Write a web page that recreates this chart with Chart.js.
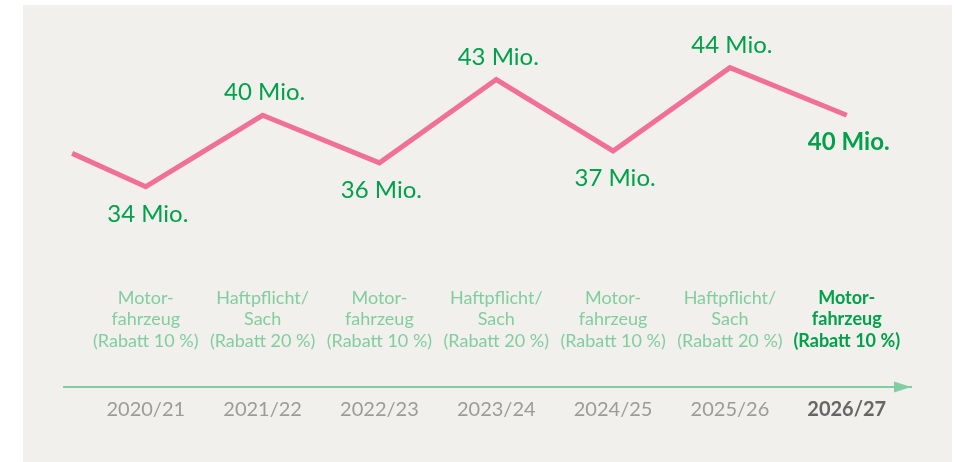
<!DOCTYPE html>
<html lang="de">
<head>
<meta charset="utf-8">
<script src="https://cdn.jsdelivr.net/npm/chart.js@4/dist/chart.umd.min.js"></script>
<style>
  html, body { margin: 0; padding: 0; background: #ffffff; }
  #panel {
    position: absolute;
    left: 23px; top: 5px;
    width: 929px; height: 457px;
    background: #f2f0ec;
  }
</style>
</head>
<body>
<div id="panel"><canvas id="myChart"></canvas></div>
<script>
'use strict';

// Daten
const seasons = ['2020/21', '2021/22', '2022/23', '2023/24', '2024/25', '2025/26', '2026/27'];
const products = [
  ['Motor-', 'fahrzeug', '(Rabatt 10 %)'],
  ['Haftpflicht/', 'Sach', '(Rabatt 20 %)'],
  ['Motor-', 'fahrzeug', '(Rabatt 10 %)'],
  ['Haftpflicht/', 'Sach', '(Rabatt 20 %)'],
  ['Motor-', 'fahrzeug', '(Rabatt 10 %)'],
  ['Haftpflicht/', 'Sach', '(Rabatt 20 %)'],
  ['Motor-', 'fahrzeug', '(Rabatt 10 %)']
];
const millions = [34, 40, 36, 43, 37, 44, 40];
// Linie kommt von links aus dem Vorjahr herein
const leadIn = { x: -0.63, y: 36.8 };

const highlight = seasons.length - 1;
const FONT = 'Lato';
const GREEN = '#00a14b';
const LIGHT_GREEN = '#82cda0';
const PINK = '#f07098';

const points = [leadIn].concat(millions.map((v, i) => ({ x: i, y: v })));

const setTicks = scale => {
  scale.ticks = seasons.map((_, i) => ({ value: i }));
};

// Werte-Beschriftung (x Mio.)
const valueLabels = {
  id: 'valueLabels',
  afterDatasetsDraw(chart) {
    const ctx = chart.ctx;
    const meta = chart.getDatasetMeta(0);
    ctx.save();
    ctx.fillStyle = GREEN;
    ctx.textAlign = 'center';
    ctx.textBaseline = 'alphabetic';
    millions.forEach((v, i) => {
      const pt = meta.data[i + 1];
      const prev = points[i].y;
      const above = v > prev;
      ctx.font = (i === highlight ? 'bold ' : '') + '24px ' + FONT;
      ctx.fillText(v + ' Mio.', pt.x + 2, pt.y + (above ? -15 : 35));
    });
    ctx.restore();
  }
};

// Pfeilspitze an der Zeitachse
const arrowHead = {
  id: 'arrowHead',
  afterDraw(chart) {
    const s = chart.scales.year;
    const ctx = chart.ctx;
    const y = s.top + 0.5;
    ctx.save();
    ctx.fillStyle = LIGHT_GREEN;
    ctx.beginPath();
    ctx.moveTo(s.right, y);
    ctx.lineTo(s.right - 17, y - 5.5);
    ctx.lineTo(s.right - 17, y + 5.5);
    ctx.closePath();
    ctx.fill();
    ctx.restore();
  }
};

new Chart(document.getElementById('myChart'), {
  type: 'line',
  data: {
    datasets: [{
      data: points,
      borderColor: PINK,
      borderWidth: 5,
      borderJoinStyle: 'miter',
      pointRadius: 0,
      tension: 0,
      fill: false
    }]
  },
  options: {
    responsive: true,
    maintainAspectRatio: false,
    animation: false,
    layout: { padding: { top: 15, bottom: 25.5, left: 41, right: 41 } },
    plugins: {
      legend: { display: false },
      tooltip: { enabled: false }
    },
    scales: {
      x: {
        type: 'linear',
        position: 'bottom',
        weight: 0,
        min: -0.7,
        max: 6.55,
        afterBuildTicks: setTicks,
        afterFit: s => { s.height = 104.5; },
        grid: { display: false, drawTicks: false },
        border: { display: false },
        ticks: {
          autoSkip: false,
          maxRotation: 0,
          padding: 5,
          color: c => c.index === highlight ? GREEN : LIGHT_GREEN,
          font: c => ({ family: FONT, size: 18, lineHeight: 1.2, weight: c.index === highlight ? 'bold' : 'normal' }),
          callback: v => products[v]
        }
      },
      year: {
        type: 'linear',
        position: 'bottom',
        weight: 1,
        min: -0.7,
        max: 6.55,
        afterBuildTicks: setTicks,
        afterFit: s => { s.height = 50; },
        grid: { display: false, drawTicks: false },
        border: { display: true, color: LIGHT_GREEN, width: 2 },
        ticks: {
          autoSkip: false,
          maxRotation: 0,
          padding: 11,
          color: c => c.index === highlight ? '#666666' : '#9b9b9b',
          font: c => ({ family: FONT, size: 20, lineHeight: 1.2, weight: c.index === highlight ? 'bold' : 'normal' }),
          callback: v => seasons[v]
        }
      },
      y: {
        display: false,
        min: 26,
        max: 48
      }
    }
  },
  plugins: [valueLabels, arrowHead]
});
</script>
</body>
</html>
